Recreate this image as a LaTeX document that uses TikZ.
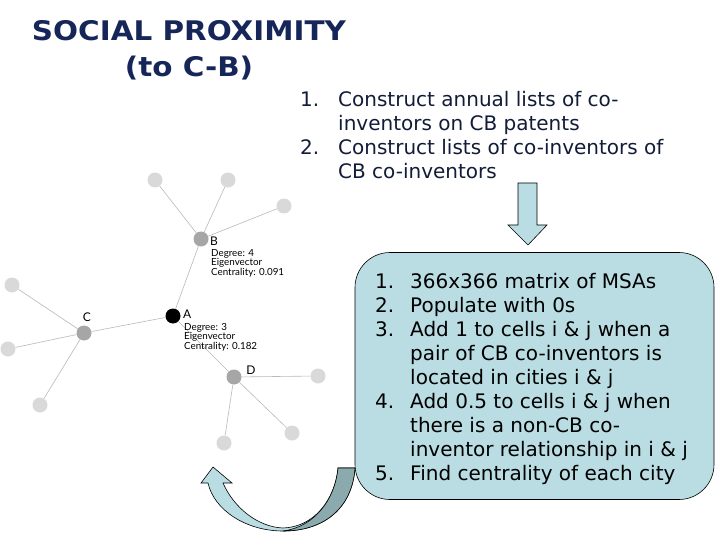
\documentclass[tikz,border=0pt]{standalone}
\usepackage{fontspec}
\setmainfont{DejaVu Sans}
\newfontfamily\netfont{Lato}
\newfontfamily\titlefont[FakeStretch=1.09]{DejaVu Sans}
\usetikzlibrary{positioning}
\definecolor{boxblue}{RGB}{185,221,227}
\definecolor{backblue}{RGB}{138,170,174}
\definecolor{titleblue}{RGB}{22,38,88}
\definecolor{inkblue}{RGB}{18,28,56}

\begin{document}
\begin{tikzpicture}[x=1pt, y=-1pt,
  leaf/.style={circle, fill=gray!30, minimum size=15pt, inner sep=0pt},
  hub/.style={circle, fill=gray!70, minimum size=15pt, inner sep=0pt},
  centre/.style={circle, fill=black, minimum size=15pt, inner sep=0pt},
  link/.style={gray!55, line width=0.6pt},
  tag/.style={font=\netfont\fontsize{9.8}{9}\selectfont, align=left, inner sep=0pt},
  steps/.style={font=\fontsize{20}{24}\selectfont, inner sep=0pt, anchor=base west},
  blockarr/.style={draw=black, line width=0.6pt, fill=boxblue}
]
\useasboundingbox (0,0) rectangle (720,540);

% title
\node[font=\titlefont\bfseries\fontsize{27}{36}\selectfont, text=titleblue, align=center]
  (title) at (189,50) {SOCIAL PROXIMITY\\(to C-B)};

% network
\node[centre] (a) at (173,316) {};
\node[hub] (b) at (201,239) {};
\node[hub] (c) at (84,333) {};
\node[hub] (d) at (234,377) {};
\node[leaf] (b1) at (155,180) {};
\node[leaf] (b2) at (228,180) {};
\node[leaf] (b3) at (284,206) {};
\node[leaf] (c1) at (12,285) {};
\node[leaf] (c2) at (8,349) {};
\node[leaf] (c3) at (40,405) {};
\node[leaf] (d1) at (318,376) {};
\node[leaf] (d2) at (292,433) {};
\node[leaf] (d3) at (224,443) {};
\foreach \u/\v in {a/b, a/c, a/d, b/b1, b/b2, b/b3, c/c1, c/c2, c/c3, d/d1, d/d2, d/d3}
  \draw[link] (\u) -- (\v);

\node[tag, anchor=west] (alab) at (183,314) {\fontsize{12}{12}\selectfont A};
\node[tag, anchor=north west] (ainfo) at (184,323) {Degree: 3\\Eigenvector\\Centrality: 0.182};
\node[tag, anchor=west] (blab) at (210,241) {\fontsize{12}{12}\selectfont B};
\node[tag, anchor=north west] (binfo) at (211,249) {Degree: 4\\Eigenvector\\Centrality: 0.091};
\node[tag] (clab) at (87,317) {\fontsize{12}{12}\selectfont C};
\node[tag] (dlab) at (251,370) {\fontsize{12}{12}\selectfont D};

% first stage
\node[steps, text=inkblue] (lists) at (300,107) {\begin{tabular}[t]{@{}p{38pt}@{}l@{}}
  1.&Construct annual lists of co-\\
    &inventors on CB patents\\
  2.&Construct lists of co-inventors of\\
    &CB co-inventors
\end{tabular}};

\draw[blockarr] (518,183) -- (537,183) -- (537,225) -- (547,225) -- (528,245)
  -- (508,225) -- (518,225) -- cycle;

% second stage
\node[draw=black, line width=0.6pt, fill=boxblue, rounded corners=35pt,
  minimum width=359pt, minimum height=247pt] (procbox) at (534.5,376) {};
\node[steps] (proc) at (375,288) {\begin{tabular}[t]{@{}p{35pt}@{}l@{}}
  1.&366x366 matrix of MSAs\\
  2.&Populate with 0s\\
  3.&Add 1 to cells i \& j when a\\
    &pair of CB co-inventors is\\
    &located in cities i \& j\\
  4.&Add 0.5 to cells i \& j when\\
    &there is a non-CB co-\\
    &inventor relationship in i \& j\\
  5.&Find centrality of each city
\end{tabular}};

% loop back
\draw[blockarr] (355,468) .. controls (352,510) and (322,531) .. (283,531)
  .. controls (246,531) and (214,510) .. (208,483) -- (201,483) -- (213,467)
  -- (232,483) -- (223,483) .. controls (234,508) and (258,527) .. (283,528)
  .. controls (314,527) and (335,500) .. (338,468) -- cycle;
\draw[draw=black, line width=0.6pt, fill=backblue] (355,468) .. controls (352,510) and (322,531) .. (283,531)
  .. controls (314,527) and (335,500) .. (338,468) -- cycle;
\end{tikzpicture}
\end{document}
